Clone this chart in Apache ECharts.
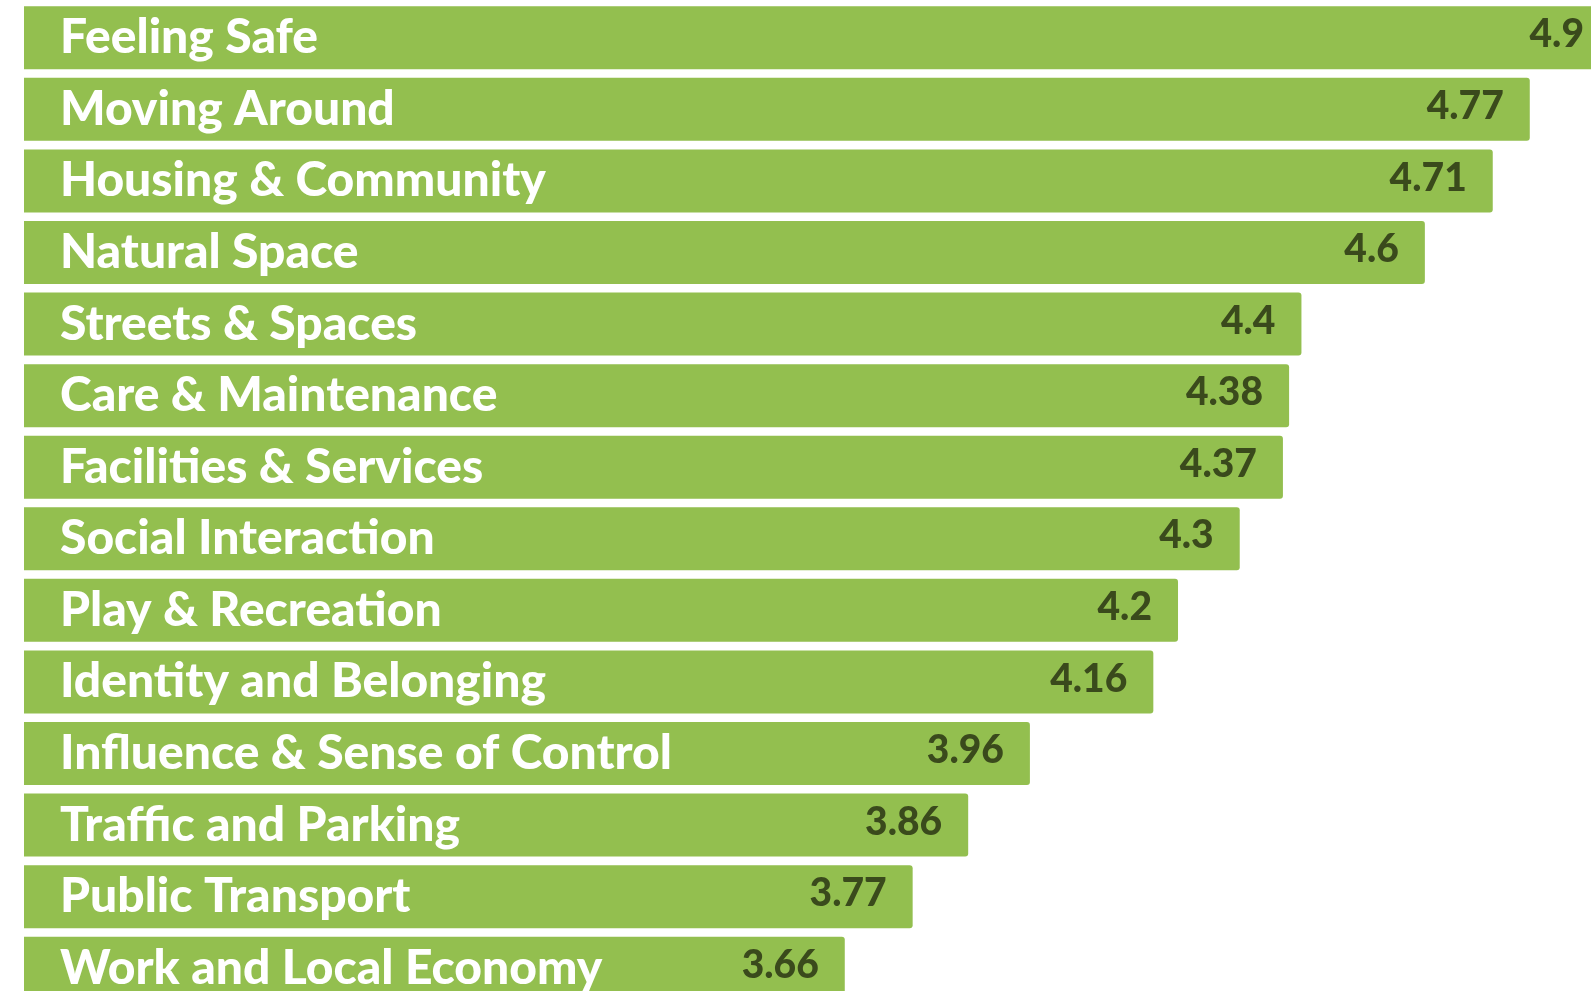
<!DOCTYPE html>
<html>
<head>
<meta charset="utf-8">
<script src="https://cdn.jsdelivr.net/npm/echarts@6/dist/echarts.min.js"></script>
<style>
  html, body { margin: 0; padding: 0; background: #fff; overflow: hidden; }
  /* the original is cropped on the right and bottom, so the chart is a bit larger than the window */
  #chart { width: 1610px; height: 1004px; }
</style>
</head>
<body>
<div id="chart"></div>
<script>
const categories = [
  'Feeling Safe',
  'Moving Around',
  'Housing & Community',
  'Natural Space',
  'Streets & Spaces',
  'Care & Maintenance',
  'Facilities & Services',
  'Social Interaction',
  'Play & Recreation',
  'Identity and Belonging',
  'Influence & Sense of Control',
  'Traffic and Parking',
  'Public Transport',
  'Work and Local Economy'
]
const scores = [4.9, 4.77, 4.71, 4.6, 4.4, 4.38, 4.37, 4.3, 4.2, 4.16, 3.96, 3.86, 3.77, 3.66]

const myChart = echarts.init(document.getElementById('chart'))

const option = {
  animation: false,
  grid: {
    left: 24,
    right: 0,
    top: 2,
    bottom: 0,
    containLabel: false
  },
  xAxis: {
    type: 'value',
    min: 2.33,
    max: 4.9,
    show: false
  },
  yAxis: {
    type: 'category',
    data: categories,
    inverse: true,
    z: 10,
    axisLine: { show: false },
    axisTick: { show: false },
    splitLine: { show: false },
    axisLabel: {
      inside: true,
      margin: 36,
      color: '#ffffff',
      fontFamily: 'Lato',
      fontWeight: 900,
      fontSize: 48
    }
  },
  series: [
    {
      type: 'bar',
      data: scores,
      barWidth: 63,
      itemStyle: {
        color: '#93bf4f',
        borderRadius: [0, 3, 3, 0]
      },
      label: {
        show: true,
        position: 'insideRight',
        distance: 26,
        offset: [0, -3],
        color: '#3a4a1c',
        fontFamily: 'Lato',
        fontWeight: 900,
        fontSize: 39
      }
    }
  ]
}

myChart.setOption(option)

window.addEventListener('resize', () => {
  myChart.resize()
})
</script>
</body>
</html>
